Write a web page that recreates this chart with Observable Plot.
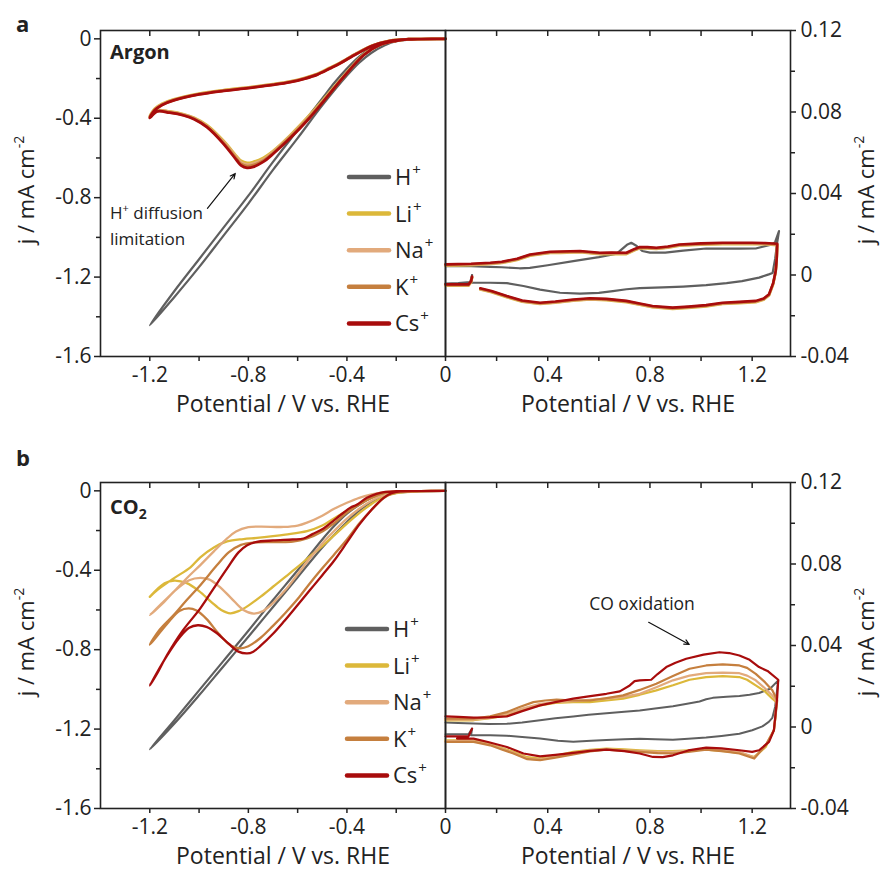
<!DOCTYPE html>
<html><head><meta charset="utf-8">
<script src="https://cdn.jsdelivr.net/npm/d3@7"></script>
<script src="https://cdn.jsdelivr.net/npm/@observablehq/plot@0.6"></script>
<style>
body{margin:0;background:#fff;}
#root{position:relative;width:884px;height:871px;font-family:"Open Sans",sans-serif;color:#222;overflow:hidden;}
#root svg.plt{position:absolute;overflow:visible;}
</style></head><body><div id="root"></div>
<script>
// ---------- series labels & colours ----------
const cations = ["H+", "Li+", "Na+", "K+", "Cs+"];
const colors = ["#5f5f5f", "#dcb83a", "#e2aa7c", "#c57f3e", "#a80c0c"];

// ---------- axis ticks ----------
const leftYMajor = [-1.6, -1.2, -0.8, -0.4, 0];
const leftYMinor = [-1.4, -1.0, -0.6, -0.2];
const leftXMajor = [-1.2, -0.8, -0.4];
const leftXMinor = [-1.0, -0.6, -0.2];
const leftXTop = [-1.2, -1.0, -0.8, -0.6, -0.4, -0.2];
const rightYMajor = [-0.04, 0, 0.04, 0.08, 0.12];
const rightYMinor = [-0.02, 0.02, 0.06, 0.10];
const rightXMajor = [0, 0.4, 0.8, 1.2];
const rightXMinor = [0.2, 0.6, 1.0];
const rightXTop = [0.2, 0.4, 0.6, 0.8, 1.0, 1.2];

// ---------- panel a (Argon), negative potentials ----------
const arH_L = [[0,0],[-0.1,-0.001],[-0.2,-0.006],[-0.25,-0.018],[-0.3,-0.045],[-0.35,-0.09],[-0.4,-0.15],[-0.45,-0.22],[-0.5,-0.3],[-0.6,-0.46],[-0.7,-0.62],[-0.8,-0.79],[-0.9,-0.95],[-1.0,-1.11],[-1.1,-1.27],[-1.2,-1.443],
  [-1.1,-1.3],[-1.0,-1.15],[-0.9,-0.99],[-0.8,-0.83],[-0.7,-0.66],[-0.6,-0.5],[-0.5,-0.335],[-0.4,-0.185],[-0.35,-0.12],[-0.3,-0.07],[-0.25,-0.035],[-0.2,-0.012],[-0.1,-0.002],[0,0]];
const arLi_L = [[0,0],[-0.1,-0.001],[-0.155,-0.003],[-0.2,-0.009],[-0.265,-0.028],[-0.33,-0.077],[-0.414,-0.188],[-0.495,-0.305],[-0.56,-0.395],[-0.63,-0.485],[-0.7,-0.565],[-0.74,-0.6],[-0.78,-0.62],[-0.805,-0.625],[-0.83,-0.614],[-0.846,-0.594],[-0.9,-0.515],[-0.968,-0.435],[-1.02,-0.398],[-1.062,-0.38],[-1.12,-0.366],[-1.17,-0.36],[-1.2,-0.39],
  [-1.18,-0.352],[-1.15,-0.327],[-1.103,-0.305],[-1.0,-0.276],[-0.9,-0.258],[-0.8,-0.244],[-0.7,-0.228],[-0.63,-0.214],[-0.57,-0.196],[-0.52,-0.176],[-0.47,-0.146],[-0.427,-0.12],[-0.36,-0.072],[-0.294,-0.032],[-0.224,-0.009],[-0.15,-0.002],[0,0]];
const arNa_L = [[0,0],[-0.1,-0.001],[-0.155,-0.003],[-0.2,-0.009],[-0.265,-0.029],[-0.33,-0.078],[-0.414,-0.19],[-0.495,-0.309],[-0.56,-0.4],[-0.63,-0.49],[-0.7,-0.57],[-0.74,-0.608],[-0.78,-0.628],[-0.805,-0.633],[-0.83,-0.622],[-0.846,-0.6],[-0.9,-0.52],[-0.968,-0.44],[-1.02,-0.4],[-1.062,-0.382],[-1.12,-0.368],[-1.17,-0.362],[-1.2,-0.393],
  [-1.18,-0.356],[-1.15,-0.33],[-1.103,-0.307],[-1.0,-0.278],[-0.9,-0.26],[-0.8,-0.246],[-0.7,-0.23],[-0.63,-0.216],[-0.57,-0.198],[-0.52,-0.178],[-0.47,-0.148],[-0.427,-0.121],[-0.36,-0.073],[-0.294,-0.033],[-0.224,-0.009],[-0.15,-0.002],[0,0]];
const arK_L = [[0,0],[-0.1,-0.001],[-0.155,-0.003],[-0.2,-0.01],[-0.265,-0.03],[-0.33,-0.079],[-0.414,-0.192],[-0.495,-0.312],[-0.56,-0.405],[-0.63,-0.495],[-0.7,-0.575],[-0.74,-0.614],[-0.78,-0.636],[-0.805,-0.641],[-0.83,-0.63],[-0.846,-0.607],[-0.9,-0.525],[-0.968,-0.442],[-1.02,-0.402],[-1.062,-0.384],[-1.12,-0.37],[-1.17,-0.364],[-1.2,-0.395],
  [-1.18,-0.358],[-1.15,-0.332],[-1.103,-0.309],[-1.0,-0.279],[-0.9,-0.261],[-0.8,-0.247],[-0.7,-0.231],[-0.63,-0.217],[-0.57,-0.199],[-0.52,-0.179],[-0.47,-0.149],[-0.427,-0.122],[-0.36,-0.074],[-0.294,-0.034],[-0.224,-0.01],[-0.15,-0.002],[0,0]];
const arCs_L = [[0,0],[-0.1,-0.001],[-0.155,-0.003],[-0.2,-0.01],[-0.265,-0.03],[-0.33,-0.08],[-0.414,-0.193],[-0.495,-0.315],[-0.56,-0.41],[-0.63,-0.5],[-0.7,-0.58],[-0.74,-0.62],[-0.78,-0.645],[-0.805,-0.65],[-0.83,-0.637],[-0.846,-0.614],[-0.9,-0.53],[-0.968,-0.445],[-1.02,-0.405],[-1.062,-0.386],[-1.12,-0.372],[-1.17,-0.366],[-1.2,-0.398],
  [-1.18,-0.36],[-1.15,-0.333],[-1.103,-0.31],[-1.0,-0.28],[-0.9,-0.262],[-0.8,-0.248],[-0.7,-0.232],[-0.63,-0.218],[-0.57,-0.2],[-0.52,-0.18],[-0.47,-0.15],[-0.427,-0.123],[-0.36,-0.075],[-0.294,-0.034],[-0.224,-0.01],[-0.15,-0.002],[0,0]];

// ---------- panel a (Argon), positive potentials ----------
const arH_R = [[0,-0.0042],[0.05,-0.004],[0.097,-0.0035],[0.104,0.0],[0.1,-0.0038],[0.175,-0.0038],[0.24,-0.004],[0.305,-0.0054],[0.37,-0.0072],[0.448,-0.0087],[0.526,-0.0091],[0.6,-0.0088],[0.655,-0.0079],[0.708,-0.007],[0.76,-0.0064],[0.85,-0.0061],[0.93,-0.0057],[1.02,-0.005],[1.1,-0.004],[1.16,-0.003],[1.227,-0.0013],[1.265,0.0003],[1.28,0.001],[1.29,0.008],[1.298,0.016],[1.305,0.0215],
  [1.29,0.0162],[1.278,0.015],[1.214,0.013],[1.15,0.0129],[1.08,0.0129],[1.02,0.013],[0.93,0.012],[0.86,0.011],[0.8,0.011],[0.77,0.0118],[0.745,0.0145],[0.727,0.0158],[0.71,0.0148],[0.67,0.0105],[0.6,0.0088],[0.5,0.0068],[0.4,0.0048],[0.33,0.0035],[0.29,0.0033],[0.22,0.0038],[0.175,0.004],[0.1,0.0043],[0,0.0044]];
// Li+, Na+, K+ and Cs+ coincide within reading precision in this window
const arCation_R = [[0,-0.0046],[0.05,-0.0046],[0.09,-0.0046],[0.1,-0.003],[0.104,-0.0008],[null,null],[0.136,-0.0065],[0.18,-0.0078],[0.24,-0.0103],[0.3,-0.0125],[0.37,-0.0136],[0.43,-0.013],[0.5,-0.012],[0.565,-0.0114],[0.63,-0.0117],[0.708,-0.0127],[0.76,-0.014],[0.81,-0.0152],[0.889,-0.016],[0.95,-0.0155],[1.02,-0.0148],[1.084,-0.0136],[1.15,-0.0132],[1.214,-0.0127],[1.245,-0.0115],[1.266,-0.0094],[1.282,-0.004],[1.292,0.002],[1.296,0.008],[1.298,0.0153],
  [1.25,0.0157],[1.2,0.0158],[1.15,0.0158],[1.084,0.0158],[1.0,0.0155],[0.915,0.015],[0.87,0.014],[0.825,0.0134],[0.79,0.0137],[0.76,0.0137],[0.74,0.0128],[0.708,0.0109],[0.65,0.011],[0.604,0.0109],[0.526,0.0118],[0.45,0.0115],[0.409,0.0114],[0.331,0.0101],[0.28,0.008],[0.22,0.0065],[0.175,0.006],[0.1,0.0055],[0,0.0052]];

// ---------- panel b (CO2), negative potentials ----------
const coH_L = [[0,0],[-0.1,-0.001],[-0.2,-0.005],[-0.25,-0.014],[-0.3,-0.035],[-0.35,-0.07],[-0.4,-0.115],[-0.45,-0.175],[-0.5,-0.245],[-0.6,-0.4],[-0.7,-0.55],[-0.8,-0.705],[-0.9,-0.855],[-1.0,-1.005],[-1.1,-1.155],[-1.2,-1.302],
  [-1.1,-1.172],[-1.0,-1.03],[-0.9,-0.882],[-0.8,-0.735],[-0.7,-0.585],[-0.6,-0.435],[-0.5,-0.285],[-0.45,-0.22],[-0.4,-0.157],[-0.35,-0.1],[-0.3,-0.055],[-0.25,-0.025],[-0.2,-0.01],[-0.1,-0.002],[0,0]];
const coLi_L = [[0,0],[-0.1,-0.002],[-0.2,-0.012],[-0.25,-0.03],[-0.3,-0.066],[-0.35,-0.112],[-0.4,-0.165],[-0.45,-0.222],[-0.5,-0.278],[-0.55,-0.33],[-0.6,-0.383],[-0.65,-0.433],[-0.7,-0.483],[-0.75,-0.533],[-0.8,-0.578],[-0.84,-0.606],[-0.873,-0.617],[-0.91,-0.6],[-0.95,-0.56],[-1.0,-0.505],[-1.05,-0.465],[-1.1,-0.452],[-1.14,-0.466],[-1.2,-0.534],
  [-1.17,-0.5],[-1.103,-0.441],[-1.035,-0.385],[-0.995,-0.335],[-0.94,-0.285],[-0.886,-0.255],[-0.82,-0.243],[-0.765,-0.237],[-0.7,-0.228],[-0.65,-0.22],[-0.562,-0.203],[-0.5,-0.175],[-0.454,-0.14],[-0.4,-0.1],[-0.35,-0.065],[-0.3,-0.035],[-0.25,-0.012],[-0.2,-0.004],[-0.1,-0.001],[0,0]];
const coNa_L = [[0,0],[-0.1,-0.001],[-0.2,-0.008],[-0.25,-0.022],[-0.3,-0.05],[-0.35,-0.09],[-0.4,-0.14],[-0.45,-0.2],[-0.5,-0.265],[-0.55,-0.34],[-0.6,-0.42],[-0.65,-0.5],[-0.7,-0.565],[-0.74,-0.605],[-0.778,-0.618],[-0.82,-0.6],[-0.87,-0.54],[-0.92,-0.48],[-0.96,-0.446],[-0.995,-0.438],[-1.04,-0.45],[-1.1,-0.505],[-1.15,-0.57],[-1.2,-0.626],
  [-1.15,-0.565],[-1.103,-0.509],[-1.05,-0.44],[-0.995,-0.374],[-0.94,-0.305],[-0.886,-0.24],[-0.85,-0.205],[-0.8,-0.183],[-0.75,-0.18],[-0.657,-0.182],[-0.6,-0.175],[-0.562,-0.16],[-0.5,-0.125],[-0.454,-0.092],[-0.4,-0.06],[-0.35,-0.035],[-0.3,-0.018],[-0.25,-0.006],[-0.2,-0.002],[0,0]];
const coK_L = [[0,0],[-0.1,-0.001],[-0.184,-0.005],[-0.22,-0.015],[-0.251,-0.036],[-0.3,-0.095],[-0.35,-0.165],[-0.4,-0.245],[-0.454,-0.324],[-0.5,-0.39],[-0.55,-0.465],[-0.6,-0.545],[-0.65,-0.615],[-0.7,-0.68],[-0.75,-0.74],[-0.8,-0.783],[-0.832,-0.793],[-0.87,-0.78],[-0.92,-0.72],[-0.97,-0.645],[-1.01,-0.603],[-1.042,-0.592],[-1.08,-0.605],[-1.12,-0.655],[-1.16,-0.715],[-1.2,-0.775],
  [-1.16,-0.7],[-1.103,-0.626],[-1.05,-0.55],[-0.995,-0.475],[-0.927,-0.374],[-0.88,-0.31],[-0.83,-0.272],[-0.778,-0.26],[-0.7,-0.258],[-0.62,-0.256],[-0.562,-0.24],[-0.5,-0.205],[-0.454,-0.165],[-0.4,-0.11],[-0.35,-0.07],[-0.3,-0.035],[-0.25,-0.012],[-0.2,-0.004],[-0.1,-0.001],[0,0]];
const coCs_L = [[0,0],[-0.1,-0.001],[-0.184,-0.003],[-0.22,-0.012],[-0.251,-0.035],[-0.3,-0.095],[-0.35,-0.17],[-0.4,-0.26],[-0.454,-0.355],[-0.5,-0.425],[-0.55,-0.5],[-0.6,-0.575],[-0.657,-0.66],[-0.7,-0.72],[-0.75,-0.78],[-0.78,-0.81],[-0.805,-0.819],[-0.84,-0.81],[-0.88,-0.77],[-0.93,-0.715],[-0.97,-0.685],[-1.005,-0.677],[-1.04,-0.69],[-1.08,-0.74],[-1.13,-0.83],[-1.2,-0.98],
  [-1.17,-0.92],[-1.13,-0.827],[-1.07,-0.71],[-0.995,-0.592],[-0.94,-0.49],[-0.886,-0.391],[-0.84,-0.31],[-0.805,-0.274],[-0.77,-0.258],[-0.7,-0.25],[-0.62,-0.245],[-0.576,-0.24],[-0.54,-0.218],[-0.495,-0.19],[-0.454,-0.15],[-0.427,-0.123],[-0.386,-0.085],[-0.36,-0.07],[-0.319,-0.035],[-0.28,-0.015],[-0.25,-0.006],[-0.2,-0.002],[0,0]];

// ---------- panel b (CO2), positive potentials ----------
const coH_R = [[0,-0.0036],[0.05,-0.0036],[0.09,-0.0036],[0.104,-0.0008],[0.1,-0.0041],[0.175,-0.0041],[0.24,-0.0043],[0.3,-0.0049],[0.37,-0.0057],[0.44,-0.0068],[0.5,-0.0072],[0.57,-0.0068],[0.63,-0.0064],[0.7,-0.006],[0.76,-0.0058],[0.82,-0.006],[0.89,-0.0062],[0.95,-0.0058],[1.02,-0.0052],[1.08,-0.0044],[1.15,-0.0033],[1.2,-0.0016],[1.24,0.0003],[1.265,0.0025],[1.279,0.0045],[1.29,0.01],[1.302,0.0229],
  [1.27,0.0188],[1.227,0.0167],[1.19,0.0158],[1.15,0.0152],[1.1,0.0148],[1.046,0.0143],[1.02,0.0136],[0.994,0.0125],[0.94,0.0113],[0.89,0.0102],[0.82,0.0091],[0.76,0.0081],[0.7,0.0075],[0.63,0.0068],[0.56,0.006],[0.5,0.0052],[0.43,0.0043],[0.37,0.0033],[0.3,0.0022],[0.24,0.0016],[0.17,0.0015],[0.11,0.0017],[0.05,0.002],[0,0.0022]];
const coLi_R = [[0,-0.0065],[0.05,-0.0065],[0.11,-0.0065],[0.175,-0.0085],[0.266,-0.0122],[0.32,-0.0148],[0.37,-0.0155],[0.43,-0.0142],[0.5,-0.0122],[0.565,-0.0112],[0.63,-0.0106],[0.7,-0.011],[0.76,-0.0114],[0.83,-0.0118],[0.89,-0.0118],[0.95,-0.0115],[1.02,-0.0111],[1.09,-0.0118],[1.15,-0.0127],[1.208,-0.0147],[1.253,-0.0098],[1.285,-0.0016],[1.292,0.006],[1.295,0.0122],
  [1.279,0.0139],[1.25,0.0175],[1.214,0.0204],[1.18,0.0232],[1.15,0.0245],[1.085,0.025],[1.02,0.0245],[0.955,0.0232],[0.89,0.0205],[0.825,0.018],[0.76,0.0158],[0.695,0.0139],[0.63,0.013],[0.565,0.0122],[0.5,0.0122],[0.43,0.0118],[0.37,0.0106],[0.3,0.0085],[0.24,0.0057],[0.175,0.0043],[0.11,0.0033],[0.05,0.0033],[0,0.0033]];
const coNa_R = [[0,-0.0069],[0.05,-0.0069],[0.11,-0.0069],[0.175,-0.0087],[0.266,-0.0127],[0.32,-0.0155],[0.37,-0.016],[0.43,-0.0145],[0.5,-0.0127],[0.565,-0.0115],[0.63,-0.0108],[0.7,-0.0115],[0.76,-0.0118],[0.83,-0.0122],[0.89,-0.0122],[0.95,-0.0117],[1.02,-0.0106],[1.09,-0.0115],[1.15,-0.0122],[1.208,-0.015],[1.253,-0.009],[1.285,-0.0016],[1.292,0.006],[1.295,0.0127],
  [1.279,0.0155],[1.25,0.019],[1.214,0.0229],[1.18,0.0252],[1.15,0.0264],[1.085,0.0267],[1.02,0.0264],[0.955,0.0252],[0.89,0.0229],[0.825,0.0195],[0.76,0.0163],[0.695,0.0148],[0.63,0.0139],[0.565,0.0133],[0.5,0.0127],[0.43,0.0122],[0.37,0.0114],[0.3,0.009],[0.24,0.0065],[0.175,0.0045],[0.11,0.0036],[0.05,0.0036],[0,0.0036]];
const coK_R = [[0,-0.0073],[0.045,-0.0073],[0.11,-0.0073],[0.175,-0.009],[0.22,-0.011],[0.266,-0.013],[0.32,-0.0158],[0.37,-0.0163],[0.43,-0.015],[0.5,-0.0134],[0.565,-0.012],[0.63,-0.0111],[0.7,-0.0117],[0.76,-0.0122],[0.83,-0.0128],[0.89,-0.013],[0.95,-0.0122],[1.02,-0.0111],[1.09,-0.012],[1.15,-0.013],[1.208,-0.0155],[1.253,-0.009],[1.285,-0.0016],[1.292,0.006],[1.298,0.0131],
  [1.279,0.018],[1.25,0.022],[1.214,0.0261],[1.18,0.029],[1.15,0.0302],[1.085,0.0307],[1.02,0.0302],[0.955,0.0286],[0.89,0.025],[0.825,0.0212],[0.76,0.0182],[0.695,0.0155],[0.63,0.0142],[0.565,0.013],[0.5,0.013],[0.435,0.0134],[0.39,0.013],[0.344,0.0122],[0.29,0.0098],[0.24,0.0073],[0.175,0.0052],[0.11,0.0041],[0.05,0.0041],[0,0.0041]];
const coCs_R = [[0,-0.0046],[0.05,-0.0046],[0.09,-0.0046],[0.104,-0.0008],[null,null],[0.045,-0.0057],[0.11,-0.0057],[0.17,-0.0075],[0.24,-0.0098],[0.305,-0.013],[0.37,-0.0144],[0.43,-0.0137],[0.5,-0.0127],[0.565,-0.0117],[0.63,-0.0111],[0.7,-0.0118],[0.76,-0.013],[0.812,-0.0147],[0.85,-0.0148],[0.89,-0.0139],[0.95,-0.0115],[1.02,-0.0101],[1.08,-0.0105],[1.15,-0.0114],[1.2,-0.0122],[1.227,-0.0114],[1.266,-0.0073],[1.285,-0.0016],[1.298,0.0147],[1.302,0.0232],
  [1.26,0.0275],[1.227,0.0294],[1.19,0.033],[1.15,0.0351],[1.11,0.0363],[1.072,0.0367],[1.01,0.0355],[0.942,0.0335],[0.9,0.0315],[0.864,0.0294],[0.83,0.026],[0.805,0.0232],[0.76,0.0229],[0.74,0.0225],[0.721,0.0204],[0.682,0.0175],[0.63,0.0163],[0.56,0.015],[0.5,0.0139],[0.43,0.0122],[0.37,0.0106],[0.3,0.0078],[0.24,0.0052],[0.17,0.0047],[0.11,0.0046],[0.05,0.005],[0,0.0052]];

// ---------- annotation arrows (data coordinates) ----------
const arrowA = [{x1: -0.966, y1: -0.854, x2: -0.853, y2: -0.678}];
const arrowB = [{x1: 0.795, y1: 0.0514, x2: 0.954, y2: 0.0405}];

// ---------- rendering ----------
const INK = "#222";
const fmt = (dec) => (d) => Math.abs(d) < 1e-9 ? "0" : d.toFixed(dec);
const blank = () => "";
const baseStyle = {fontFamily: "'Open Sans', sans-serif", fontSize: "21px", color: INK, background: "transparent", overflow: "visible"};

function lineMarks(series, curve, widths, dys) {
  return series.map((s, i) => Plot.line(s, {x: d => d[0], y: d => d[1], stroke: colors[i], strokeWidth: widths[i], curve, dy: dys ? dys[i] : 0, strokeLinejoin: "round", strokeLinecap: "round"}));
}

function leftPlot(series, widths, extra) {
  return Plot.plot({
    width: 445, height: 420, marginLeft: 100, marginRight: 0, marginTop: 30, marginBottom: 64,
    style: baseStyle,
    x: {domain: [-1.4, 0]}, y: {domain: [-1.6, 0.042]},
    marks: [
      Plot.axisY({ticks: leftYMajor, anchor: "left", tickSize: 6, tickPadding: 3, tickFormat: fmt(1), label: null, strokeWidth: 1.5}),
      Plot.axisY({ticks: leftYMinor, anchor: "left", tickSize: 4, tickFormat: blank, label: null, strokeWidth: 1.5}),
      Plot.axisX({ticks: leftXMajor, anchor: "bottom", tickSize: 5, tickPadding: 6, tickFormat: fmt(1), label: null, strokeWidth: 1.5}),
      Plot.axisX({ticks: leftXMinor, anchor: "bottom", tickSize: 5, tickFormat: blank, label: null, strokeWidth: 1.5}),
      Plot.axisX({ticks: leftXTop, anchor: "top", tickSize: 5, dy: 5, tickFormat: blank, label: null, strokeWidth: 1.5}),
      ...lineMarks(series, "catmull-rom", widths),
      ...extra,
      Plot.frame({stroke: INK, strokeWidth: 1.6})
    ]
  });
}

function rightPlot(series, widths, dys, extra) {
  return Plot.plot({
    width: 439, height: 420, marginLeft: 0, marginRight: 94, marginTop: 30, marginBottom: 64,
    style: baseStyle,
    x: {domain: [0, 1.35]}, y: {domain: [-0.04, 0.12]},
    marks: [
      Plot.axisY({ticks: rightYMajor, anchor: "right", tickSize: 5, tickPadding: 5, tickFormat: fmt(2), label: null, strokeWidth: 1.5}),
      Plot.axisY({ticks: rightYMinor, anchor: "right", tickSize: 4, tickFormat: blank, label: null, strokeWidth: 1.5}),
      Plot.axisX({ticks: rightXMajor, anchor: "bottom", tickSize: 5, tickPadding: 6, tickFormat: fmt(1), label: null, strokeWidth: 1.5}),
      Plot.axisX({ticks: rightXMinor, anchor: "bottom", tickSize: 5, tickFormat: blank, label: null, strokeWidth: 1.5}),
      Plot.axisX({ticks: rightXTop, anchor: "top", tickSize: 5, dy: 5, tickFormat: blank, label: null, strokeWidth: 1.5}),
      ...lineMarks(series, "linear", widths, dys),
      ...extra,
      Plot.frame({stroke: INK, strokeWidth: 1.6})
    ]
  });
}

const root = document.getElementById("root");
function place(svg, left, top) {
  svg.classList.add("plt");
  svg.style.left = left + "px";
  svg.style.top = top + "px";
  root.appendChild(svg);
}

const arrowOpts = {x1: "x1", y1: "y1", x2: "x2", y2: "y2", stroke: "#111", strokeWidth: 1.2, headLength: 7, headAngle: 50};
const TOP_A = 0, TOP_B = 452;

place(leftPlot([arH_L, arLi_L, arNa_L, arK_L, arCs_L], [2.2, 2.8, 2.8, 2.8, 2.8], [Plot.arrow(arrowA, arrowOpts)]), 0, TOP_A);
place(rightPlot([arH_R, arCation_R, arCation_R, arCation_R, arCation_R], [2.2, 2.6, 2.6, 2.6, 2.6], [0, 1.3, 0.9, 0.5, 0], []), 445, TOP_A);
place(leftPlot([coH_L, coLi_L, coNa_L, coK_L, coCs_L], [2.2, 2.3, 2.3, 2.3, 2.3], []), 0, TOP_B);
place(rightPlot([coH_R, coLi_R, coNa_R, coK_R, coCs_R], [2.0, 2.2, 2.2, 2.2, 2.2], null, [Plot.arrow(arrowB, arrowOpts)]), 445, TOP_B);

// ---------- overlay texts: titles, legends, labels ----------
const ov = d3.select(root).append("svg")
  .attr("width", 884).attr("height", 871)
  .style("position", "absolute").style("left", 0).style("top", 0)
  .style("pointer-events", "none")
  .attr("font-family", "'Open Sans', sans-serif").attr("fill", INK);

function yTitle(x, y) {
  const t = ov.append("text").attr("transform", `translate(${x},${y}) rotate(-90)`)
    .attr("text-anchor", "middle").attr("font-size", 22);
  t.append("tspan").text("j / mA cm");
  t.append("tspan").attr("font-size", 14).attr("dy", -10).text("-2");
}
function xTitle(x, y) {
  ov.append("text").attr("x", x).attr("y", y).attr("text-anchor", "middle").attr("font-size", 23)
    .text("Potential / V vs. RHE");
}
function legend(x, y0, step) {
  cations.forEach((c, i) => {
    const y = y0 + i * step;
    ov.append("line").attr("x1", x).attr("x2", x + 40).attr("y1", y).attr("y2", y)
      .attr("stroke", colors[i]).attr("stroke-width", 4.5).attr("stroke-linecap", "round");
    const t = ov.append("text").attr("x", x + 46).attr("y", y + 8).attr("font-size", 22);
    t.append("tspan").text(c.replace("+", ""));
    t.append("tspan").attr("font-size", 15).attr("dy", -10).attr("dx", 1).text("+");
  });
}

[TOP_A, TOP_B].forEach(T => {
  yTitle(34, T + 190);
  yTitle(874, T + 190);
  xTitle(283, T + 412);
  xTitle(628, T + 412);
});
legend(349, TOP_A + 177, 36.6);
legend(347, TOP_B + 177, 36.6);

ov.append("text").attr("x", 16).attr("y", 32).attr("font-size", 22).attr("font-weight", 700).text("a");
ov.append("text").attr("x", 16).attr("y", 466).attr("font-size", 22).attr("font-weight", 700).text("b");
ov.append("text").attr("x", 110).attr("y", 59).attr("font-size", 20).attr("font-weight", 700).text("Argon");
const co2 = ov.append("text").attr("x", 110).attr("y", 514).attr("font-size", 20).attr("font-weight", 700);
co2.append("tspan").text("CO");
co2.append("tspan").attr("font-size", 14).attr("dy", 5).text("2");

const hd = ov.append("text").attr("x", 110).attr("y", 218.5).attr("font-size", 17);
hd.append("tspan").text("H");
hd.append("tspan").attr("font-size", 11).attr("dy", -7).text("+");
hd.append("tspan").attr("dy", 7).text(" diffusion");
ov.append("text").attr("x", 110).attr("y", 245).attr("font-size", 17).text("limitation");

ov.append("text").attr("x", 642).attr("y", 609.5).attr("text-anchor", "middle").attr("font-size", 17.5).text("CO oxidation");
</script>
</body></html>
